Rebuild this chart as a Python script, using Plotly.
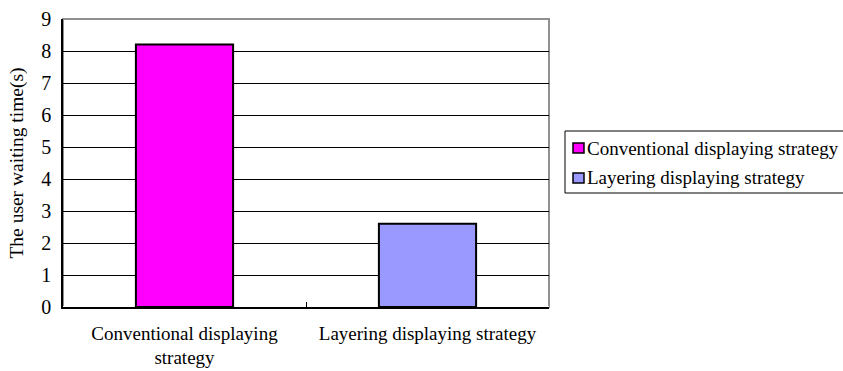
import plotly.graph_objects as go

categories = ["Conventional displaying<br>strategy", "Layering displaying strategy"]
series_names = ["Conventional displaying strategy", "Layering displaying strategy"]
values = [8.2, 2.6]
colors = ["#FF00FF", "#9999FF"]
y_ticks = [0, 1, 2, 3, 4, 5, 6, 7, 8, 9]

W, H = 843, 371
L, R, T, B = 63, 294, 19, 64
PW, PH = W - L - R, H - T - B


def px(x):
    return (x - L) / PW


def py(y):
    return (H - B - y) / PH


fig = go.Figure()
for i, name in enumerate(series_names):
    fig.add_trace(go.Bar(
        x=[categories[i]], y=[values[i]], name=name,
        marker=dict(color=colors[i], line=dict(color="black", width=2)),
        width=0.4, offset=-0.2, showlegend=False,
    ))

shapes = [dict(type="rect", xref="paper", yref="paper", x0=0, x1=1, y0=0, y1=1,
               line=dict(color="#909090", width=2), layer="below")]
# manual legend box (extends past the right edge as in the reference)
shapes.append(dict(type="rect", xref="paper", yref="paper",
                   x0=px(565), x1=px(870), y0=py(193), y1=py(131),
                   line=dict(color="black", width=1), fillcolor="white"))
annotations = []
for i, name in enumerate(series_names):
    cy = 148 + 30 * i
    shapes.append(dict(type="rect", xref="paper", yref="paper",
                       x0=px(573), x1=px(584), y0=py(cy + 5), y1=py(cy - 5),
                       line=dict(color="black", width=1.5), fillcolor=colors[i]))
    annotations.append(dict(xref="paper", yref="paper", x=px(585), y=py(cy),
                            xanchor="left", yanchor="middle", text=name,
                            showarrow=False, font=dict(size=19)))

fig.update_layout(
    width=W, height=H,
    margin=dict(l=L, r=R, t=T, b=B),
    paper_bgcolor="white", plot_bgcolor="white",
    font=dict(family="Liberation Serif, Times New Roman, serif", color="black", size=19),
    barmode="overlay",
    showlegend=False,
    shapes=shapes,
    annotations=annotations,
)
fig.update_xaxes(
    categoryorder="array", categoryarray=categories, automargin=False,
    showline=True, linecolor="black", linewidth=1.5,
    tickson="boundaries", ticks="inside", ticklen=5, tickcolor="black",
    showgrid=False, tickfont=dict(size=19), ticklabelstandoff=8,
)
fig.update_yaxes(
    range=[0, 9], tickvals=y_ticks, automargin=False,
    showline=True, linecolor="black", linewidth=1.5,
    showgrid=True, gridcolor="black", gridwidth=1, ticks="", tickfont=dict(size=20),
    ticklabelstandoff=6,
    title=dict(text="The user waiting time(s)", font=dict(size=19.5), standoff=12),
)
fig.write_html("out.html")
